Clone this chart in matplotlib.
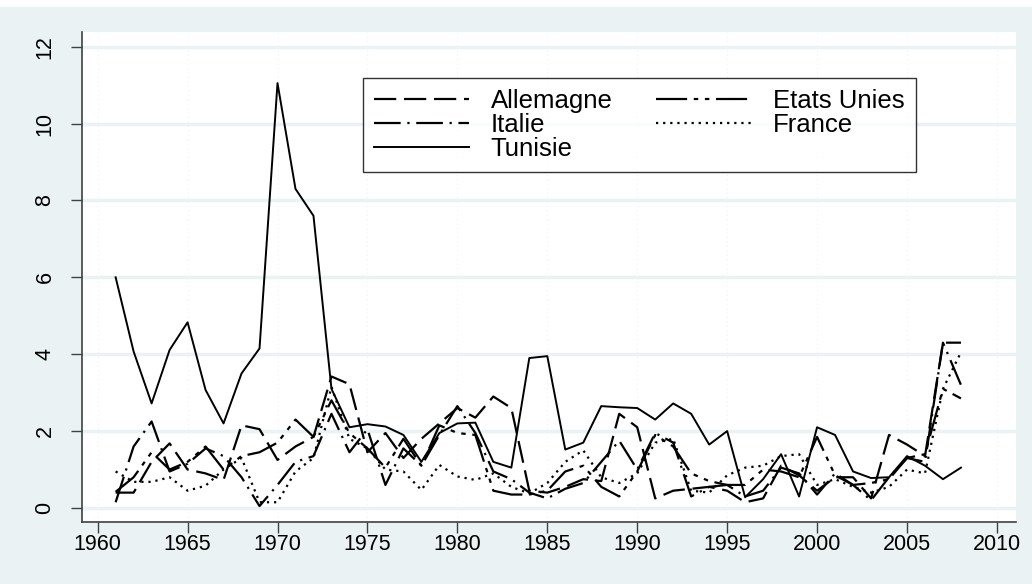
import matplotlib.pyplot as plt
import numpy as np

years = list(range(1961, 2009))

allemagne = [0.40, 0.40, 1.20, 1.68, 1.00, 0.90, 0.73, 2.15, 2.05, 1.25,
             1.60, 1.85, 3.42, 3.22, 1.45, 1.95, 1.30, 1.80, 2.20, 2.60,
             2.35, 2.90, 2.60, 0.45, 0.40, 0.55, 0.75, 0.70, 2.45, 2.10,
             0.25, 0.45, 0.50, 0.55, 0.45, 0.15, 0.25, 1.10, 0.85, 0.45,
             0.80, 0.80, 0.25, 1.90, 1.65, 1.35, 4.30, 4.30]
etats_unies = [0.42, 0.80, 1.45, 1.00, 1.20, 1.60, 1.00, 1.35, 1.45, 1.70,
               2.30, 1.85, 2.80, 1.95, 1.55, 1.05, 1.80, 1.10, 2.15, 1.95,
               1.90, 0.45, 0.35, 0.35, 0.45, 0.95, 1.10, 0.55, 0.30, 0.95,
               1.90, 1.60, 0.90, 0.70, 0.60, 0.60, 1.00, 0.95, 0.80, 1.85,
               0.85, 0.60, 0.65, 0.75, 1.30, 1.40, 3.10, 2.85]
italie = [0.15, 1.60, 2.25, 0.95, 1.15, 1.55, 1.35, 0.80, 0.05, 0.60,
          1.20, 1.35, 2.45, 1.45, 2.05, 0.60, 1.55, 1.10, 1.90, 2.65,
          1.95, 0.95, 0.75, 0.40, 0.25, 0.50, 0.65, 1.20, 1.75, 1.00,
          1.95, 1.70, 0.30, 0.55, 0.60, 0.30, 0.45, 1.05, 0.90, 0.35,
          0.90, 0.60, 0.20, 0.80, 1.30, 1.20, 4.30, 3.20]
france = [0.95, 0.68, 0.68, 0.80, 0.45, 0.58, 1.00, 1.30, 0.15, 0.15,
          0.95, 1.30, 3.15, 1.80, 1.55, 1.00, 0.95, 0.47, 1.12, 0.82,
          0.73, 0.90, 0.55, 0.38, 0.65, 1.20, 1.50, 0.80, 0.65, 0.90,
          1.70, 1.80, 0.45, 0.40, 0.85, 1.05, 1.10, 1.35, 1.40, 0.60,
          0.75, 0.55, 0.40, 0.55, 1.00, 0.90, 3.10, 4.05]
tunisie = [6.00, 4.07, 2.72, 4.11, 4.83, 3.07, 2.20, 3.50, 4.15, 11.05,
           8.30, 7.60, 3.10, 2.10, 2.18, 2.12, 1.90, 1.20, 1.95, 2.20,
           2.22, 1.20, 1.05, 3.90, 3.95, 1.52, 1.70, 2.65, 2.62, 2.60,
           2.30, 2.72, 2.45, 1.65, 2.00, 0.28, 0.75, 1.40, 0.30, 2.10,
           1.90, 0.95, 0.78, 0.80, 1.35, 1.10, 0.75, 1.05]

bg = "#eaf2f3"
plt.rcParams["font.family"] = ["Liberation Sans", "DejaVu Sans"]

fig = plt.figure(figsize=(10.32, 5.84), dpi=100, facecolor=bg)
# thin white strip at the top of the image
fig.patches.append(plt.Rectangle((0, 1 - 7 / 584), 1, 7 / 584, transform=fig.transFigure,
                                 facecolor="white", edgecolor="none"))
ax = fig.add_axes([82 / 1032, 62 / 584, 934 / 1032, 490 / 584])
ax.set_facecolor("white")

lw = 1.6
l_a, = ax.plot(years, allemagne, color="black", lw=lw, dashes=(10, 3.5), label="Allemagne")
l_e, = ax.plot(years, etats_unies, color="black", lw=lw, dashes=(14, 3, 2, 3, 2, 3), label="Etats Unies")
l_i, = ax.plot(years, italie, color="black", lw=lw, dashes=(12, 3, 1, 3), label="Italie")
l_f, = ax.plot(years, france, color="black", lw=lw, dashes=(1, 2.2), label="France")
l_t, = ax.plot(years, tunisie, color="black", lw=1.4, label="Tunisie")

ax.set_xlim(1959.13, 2011.06)
ax.set_ylim(-0.364, 12.38)
ax.set_xticks(np.arange(1960, 2011, 5))
ax.set_yticks(np.arange(0, 13, 2))

for y in np.arange(0, 13, 2):
    ax.axhline(y, color=bg, lw=2.5, zorder=0)
for x in np.arange(1960, 2011, 5):
    ax.axvline(x, color="#eef3f4", lw=0.8, ls=(0, (1, 3)), zorder=0)

for s in ["top", "right"]:
    ax.spines[s].set_visible(False)
for s in ["left", "bottom"]:
    ax.spines[s].set_color("#404040")
    ax.spines[s].set_linewidth(1.2)

ax.tick_params(axis="both", length=8, width=1.0, color="#404040", labelsize=15.5)
ax.tick_params(axis="x", pad=1)
ax.tick_params(axis="y", labelrotation=90, pad=11)
for lab in ax.get_yticklabels():
    lab.set_verticalalignment("center")

leg = ax.legend(handles=[l_a, l_i, l_t, l_e, l_f], ncol=2, loc="upper left",
                bbox_to_anchor=(363 / 1032, 1 - 78 / 584), bbox_transform=fig.transFigure,
                fontsize=18.5, frameon=True, fancybox=False, handlelength=3.7,
                columnspacing=1.7, labelspacing=0.0, borderpad=0.42, handletextpad=0.85,
                borderaxespad=0)
leg.get_frame().set_edgecolor("black")
leg.get_frame().set_linewidth(1.0)

fig.savefig("out.png", dpi=100, facecolor=bg)
